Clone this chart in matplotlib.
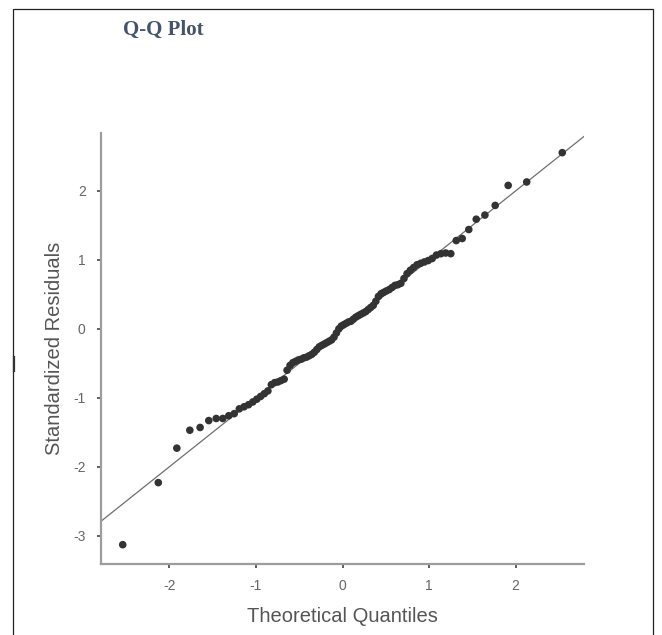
import matplotlib
matplotlib.use("Agg")
import matplotlib.pyplot as plt
from matplotlib.patches import Rectangle
from matplotlib.lines import Line2D

plt.rcParams["axes.unicode_minus"] = False

# Theoretical quantiles (x) and standardized residuals (y)
theoretical = [
    -2.539, -2.128, -1.914, -1.764, -1.645, -1.545, -1.459, -1.383, -1.314, -1.251,
    -1.192, -1.137, -1.085, -1.036, -0.990, -0.946, -0.903, -0.862, -0.822, -0.784,
    -0.746, -0.710, -0.674, -0.640, -0.606, -0.573, -0.540, -0.508, -0.477, -0.446,
    -0.415, -0.385, -0.355, -0.326, -0.297, -0.268, -0.240, -0.210, -0.182, -0.154,
    -0.126, -0.098, -0.070, -0.042, -0.014, 0.014, 0.042, 0.070, 0.098, 0.126,
    0.154, 0.182, 0.210, 0.240, 0.268, 0.297, 0.326, 0.355, 0.385, 0.415,
    0.446, 0.477, 0.508, 0.540, 0.573, 0.606, 0.640, 0.674, 0.710, 0.746,
    0.784, 0.822, 0.862, 0.903, 0.946, 0.990, 1.036, 1.085, 1.137, 1.192,
    1.251, 1.314, 1.383, 1.459, 1.545, 1.645, 1.764, 1.914, 2.128, 2.539,
]
residuals = [
    -3.13, -2.23, -1.73, -1.47, -1.43, -1.33, -1.30, -1.30, -1.26, -1.23,
    -1.16, -1.13, -1.10, -1.06, -1.02, -0.98, -0.94, -0.90, -0.81, -0.78,
    -0.77, -0.75, -0.73, -0.60, -0.53, -0.49, -0.47, -0.45, -0.44, -0.42,
    -0.41, -0.39, -0.37, -0.34, -0.30, -0.26, -0.24, -0.22, -0.20, -0.18,
    -0.16, -0.12, -0.06, 0.00, 0.04, 0.06, 0.08, 0.10, 0.11, 0.14,
    0.17, 0.19, 0.21, 0.23, 0.25, 0.28, 0.31, 0.34, 0.40, 0.47,
    0.51, 0.53, 0.55, 0.57, 0.60, 0.63, 0.64, 0.66, 0.73, 0.80,
    0.85, 0.89, 0.93, 0.95, 0.97, 0.99, 1.02, 1.07, 1.09, 1.10,
    1.09, 1.28, 1.31, 1.44, 1.59, 1.65, 1.79, 2.08, 2.13, 2.555,
]
x_ticks = [-2, -1, 0, 1, 2]
y_ticks = [-3, -2, -1, 0, 1, 2]
title = "Q-Q Plot"
x_label = "Theoretical Quantiles"
y_label = "Standardized Residuals"

W, H = 662, 635
fig = plt.figure(figsize=(W / 100, H / 100), dpi=100)
fig.patch.set_facecolor("white")

# outer frame
fig.add_artist(Rectangle((13 / W, -0.02), (653 - 13) / W, 1 - 9 / H + 0.02,
                         transform=fig.transFigure, fill=False,
                         edgecolor="#222222", linewidth=0.9))
fig.add_artist(Line2D([13.5 / W, 13.5 / W], [1 - 357 / H, 1 - 371 / H],
                      transform=fig.transFigure, color="#333333", linewidth=1.6))

ax = fig.add_axes([101 / W, 1 - 564 / H, (584 - 101) / W, (564 - 133) / H])
ax.set_xlim(-2.79, 2.79)
ax.set_ylim(-3.41, 2.84)

ax.axline((0, 0), slope=1, color="#6e6e6e", linewidth=0.9, zorder=2)
ax.scatter(theoretical, residuals, s=30, color="#333333", edgecolors="none", zorder=3)

for side in ("top", "right"):
    ax.spines[side].set_visible(False)
for side in ("left", "bottom"):
    ax.spines[side].set_color("#9c9c9c")
    ax.spines[side].set_linewidth(1.6)

ax.set_xticks(x_ticks)
ax.set_yticks(y_ticks)
ax.tick_params(direction="out", length=3, width=1.2, color="#444444",
               labelsize=10, labelcolor="#666666", pad=8)
for lbl in ax.get_xticklabels() + ax.get_yticklabels():
    lbl.set_family("Liberation Sans")

ax.set_xlabel(x_label, fontsize=14.5, color="#555555", family="Liberation Sans", labelpad=10)
ax.set_ylabel(y_label, fontsize=14.5, color="#555555", family="Liberation Sans", labelpad=7)

fig.text(123 / W, 1 - 30 / H, title, fontsize=15, fontweight="bold",
         family="Liberation Serif", color="#44546A", va="center", ha="left")

fig.savefig("out.png", dpi=100)
